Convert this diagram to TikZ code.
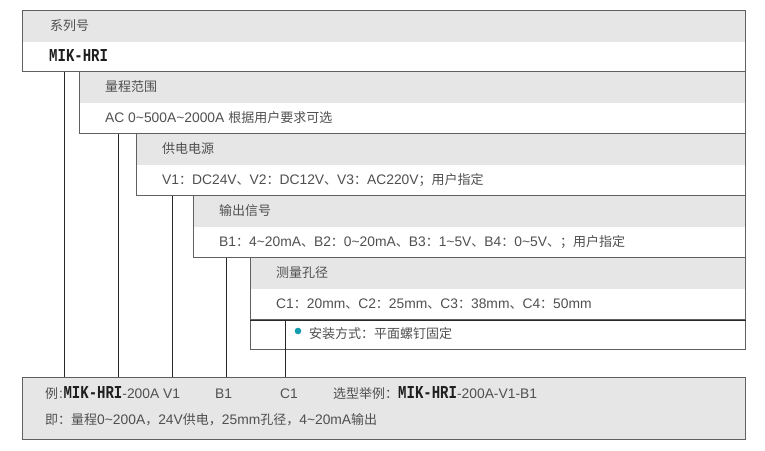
\documentclass[tikz,border=0pt]{standalone}
\usepackage{graphicx}
\usepackage{fontspec}
\setmainfont{Liberation Sans}[Scale=1.064]
\newfontfamily\zh{Noto Sans CJK SC}
\newfontfamily\mikfont{Liberation Mono}[Scale=1.4]
\newcommand\tld{\char"7E\relax}
\definecolor{bordc}{RGB}{96,96,96}
\definecolor{bandc}{RGB}{230,230,230}
\definecolor{txtc}{RGB}{80,80,80}
\definecolor{mikc}{RGB}{30,30,30}
\definecolor{connc}{RGB}{40,40,40}
\definecolor{dotc}{RGB}{20,155,175}
\newcommand\mik{\scalebox{0.77}[1]{\color{mikc}\mikfont\bfseries MIK-HRI}}
\begin{document}
\begin{tikzpicture}[x=1pt,y=-1pt,
  box/.style={draw=bordc, line width=1.2pt, fill=white, anchor=north west, inner sep=0pt, minimum width=723pt, minimum height=62pt},
  banded/.style={path picture={\fill[bandc] (path picture bounding box.north west) rectangle ([yshift=-31.5pt]path picture bounding box.north east);}},
  txt/.style={anchor=base west, inner sep=0pt, text=txtc, font=\fontsize{13pt}{15pt}\selectfont},
  conn/.style={draw=connc, line width=1pt},
  darkline/.style={draw=connc, line width=1.2pt}]
\useasboundingbox (0,0) rectangle (765,450);
% boxes
\node[box, banded, minimum height=61.5pt] (b1) at (22,9.5) {};
\node[box, banded, minimum width=666pt] (b2) at (79,71) {};
\node[box, banded, minimum width=609pt] (b3) at (136,133) {};
\node[box, banded, minimum width=552pt] (b4) at (193,195) {};
\node[box, banded, minimum width=495pt] (b5) at (250,257) {};
\node[box, minimum width=495pt, minimum height=29.5pt] (b6) at (250,319) {};
\node[box, fill=bandc] (ex) at (22,377) {};
\draw[darkline] (b5.south west) -- (b5.south east);
% connector positions
\coordinate (c1) at (64,0);
\coordinate (c2) at (118,0);
\coordinate (c3) at (172,0);
\coordinate (c4) at (226,0);
\coordinate (c5) at (285.5,0);
\draw[conn] (b1.south -| c1) -- (ex.north -| c1);
\draw[conn] (b2.south -| c2) -- (ex.north -| c2);
\draw[conn] (b3.south -| c3) -- (ex.north -| c3);
\draw[conn] (b4.south -| c4) -- (ex.north -| c4);
\draw[conn] (b5.south -| c5) -- (ex.north -| c5);
% texts
\node[txt] (t1a) at (50,30) {\zh 系列号};
\node[txt] (t1b) at (49,61) {\mik};
\node[txt] (t2a) at (105,91.5) {\zh 量程范围};
\node[txt] (t2b) at (105,122) {AC 0\tld500A\tld2000A {\zh 根据用户要求可选}};
\node[txt] (t3a) at (162,153.5) {\zh 供电电源};
\node[txt] (t3b) at (162,184) {V1{\zh ：}DC24V{\zh 、}V2{\zh ：}DC12V{\zh 、}V3{\zh ：}AC220V{\zh ；用户指定}};
\node[txt] (t4a) at (219,215.5) {\zh 输出信号};
\node[txt] (t4b) at (219,246) {B1{\zh ：}4\tld20mA{\zh 、}B2{\zh ：}0\tld20mA{\zh 、}B3{\zh ：}1\tld5V{\zh 、}B4{\zh ：}0\tld5V{\zh 、；用户指定}};
\node[txt] (t5a) at (276,277.5) {\zh 测量孔径};
\node[txt] (t5b) at (276,308) {C1{\zh ：}20mm{\zh 、}C2{\zh ：}25mm{\zh 、}C3{\zh ：}38mm{\zh 、}C4{\zh ：}50mm};
\fill[dotc] (298,331) circle (3.3pt);
\node[txt] (t6) at (309,338.5) {\zh 安装方式：平面螺钉固定};
\node[txt] (e1) at (45,398.5) {{\zh 例}\kern1pt:\kern0.5pt\mik-200A V1};
\node[txt] (e2) at (215,398.5) {B1};
\node[txt] (e3) at (280,398.5) {C1};
\node[txt] (e4) at (333,398.5) {{\zh 选型举例：}\mik-200A-V1-B1};
\node[txt] (e5) at (45,424.5) {{\zh 即：量程}0\tld200A{\zh ，}24V{\zh 供电，}25mm{\zh 孔径，}4\tld20mA{\zh 输出}};
\end{tikzpicture}
\end{document}
